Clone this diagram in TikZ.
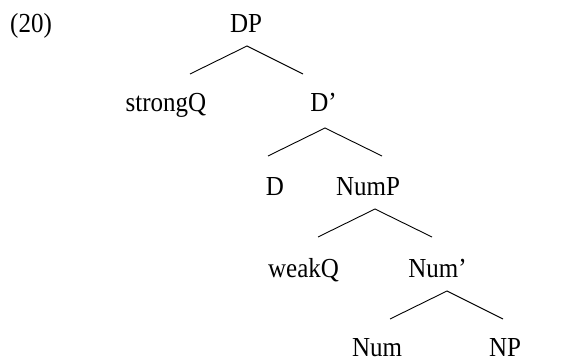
\documentclass[tikz,border=0pt]{standalone}
\usepackage{fontspec}
\usepackage{graphicx}
\setmainfont{Liberation Serif}
\newcommand\talltext[1]{\scalebox{1}[1.1]{#1}}
\begin{document}
\begin{tikzpicture}[x=1pt,y=-1pt,
  lab/.style={anchor=base,inner sep=0pt,font=\fontsize{25}{30}\selectfont},
  branch/.style={line width=0.9pt}]
\useasboundingbox (0,0) rectangle (587,361);
\node[lab,anchor=base west] (ex) at (10,33) {\talltext{(20)}};
\node[lab] (DP) at (246,33) {\talltext{DP}};
\node[lab] (sQ) at (166,112) {\talltext{strongQ}};
\node[lab] (Dbar) at (323.5,112) {\talltext{D’}};
\node[lab] (D) at (275,195) {\talltext{D}};
\node[lab] (NumP) at (368,195) {\talltext{NumP}};
\node[lab] (wQ) at (303.5,277) {\talltext{weakQ}};
\node[lab] (Numbar) at (437.5,277) {\talltext{Num’}};
\node[lab] (Num) at (377,356) {\talltext{Num}};
\node[lab] (NP) at (505,356) {\talltext{NP}};
% branch apexes and ends
\coordinate (a1) at (247,46);  \coordinate (l1) at (190,74);  \coordinate (r1) at (303,74);
\coordinate (a2) at (325,128); \coordinate (l2) at (268,156); \coordinate (r2) at (382,156);
\coordinate (a3) at (375,209); \coordinate (l3) at (318,237); \coordinate (r3) at (432,237);
\coordinate (a4) at (447,291); \coordinate (l4) at (390,319); \coordinate (r4) at (503,319);
\draw[branch] (l1) -- (a1) -- (r1);
\draw[branch] (l2) -- (a2) -- (r2);
\draw[branch] (l3) -- (a3) -- (r3);
\draw[branch] (l4) -- (a4) -- (r4);
\end{tikzpicture}
\end{document}
